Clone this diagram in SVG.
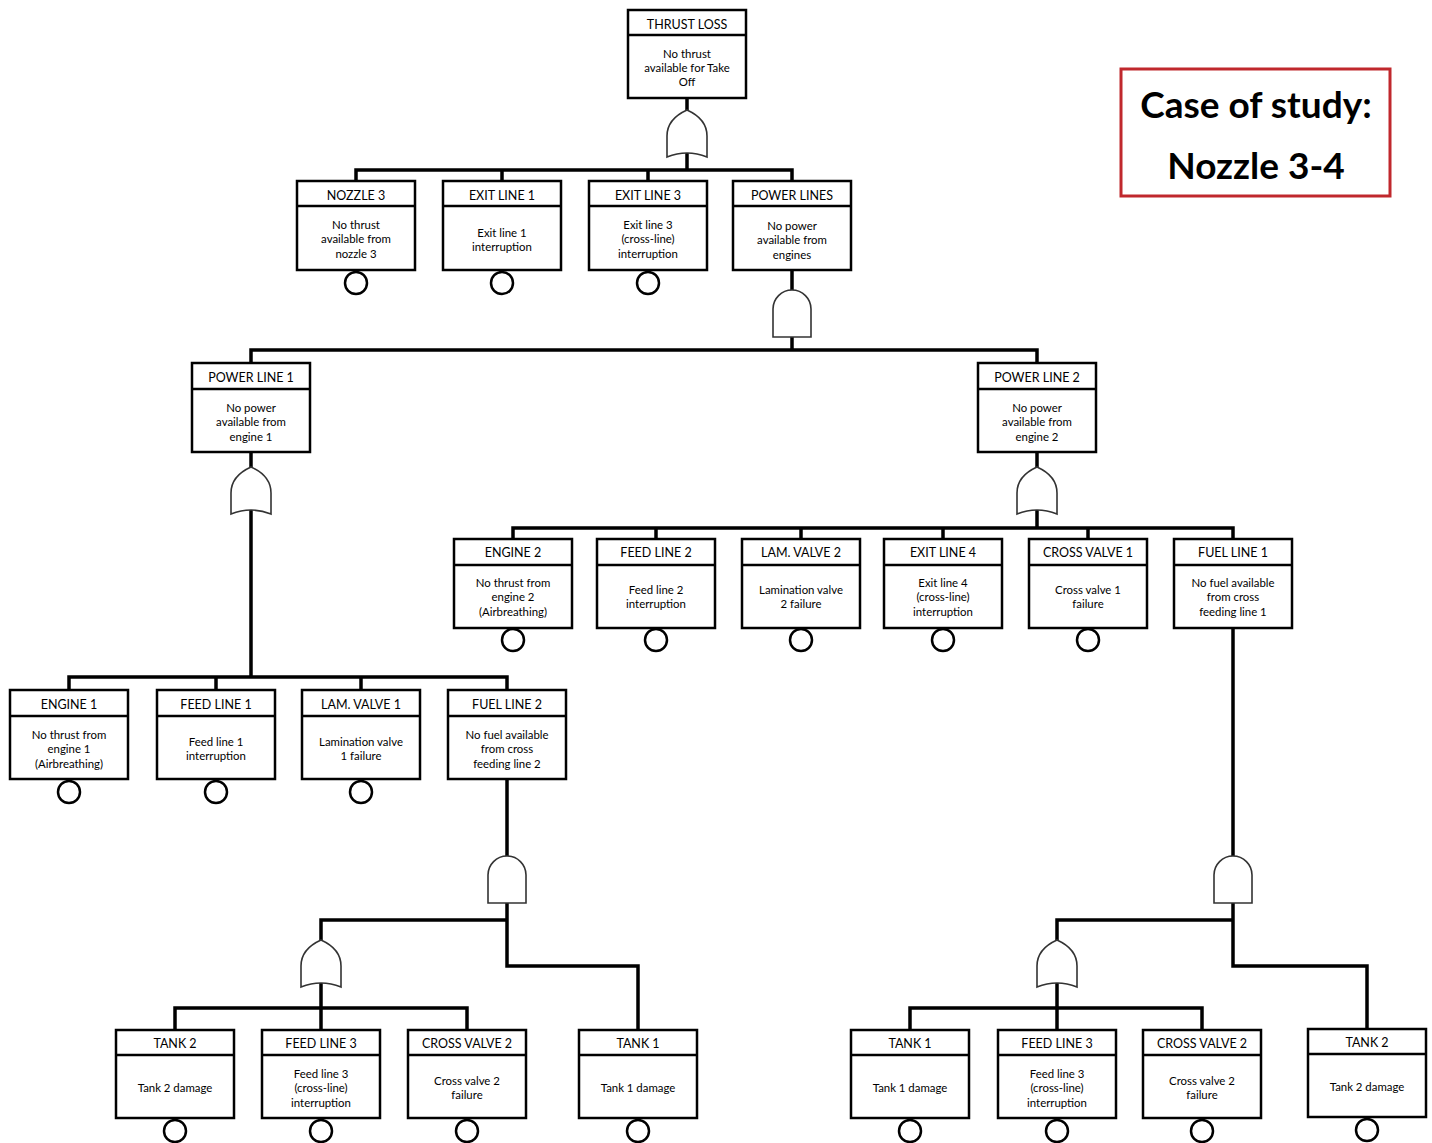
<svg xmlns="http://www.w3.org/2000/svg" xmlns:xlink="http://www.w3.org/1999/xlink" width="1432" height="1143" viewBox="0 0 1432 1143">
<style>
.box{fill:#fff;stroke:#000;stroke-width:2.5}
.div{stroke:#000;stroke-width:2.5}
.ev{fill:#fff;stroke:#000;stroke-width:2.5}
.t{font-family:Lato,"Open Sans",sans-serif;font-size:12.5px;text-anchor:middle;fill:#000}
.b{font-family:Lato,"Open Sans",sans-serif;font-size:11.4px;text-anchor:middle;fill:#000}
.conn path{fill:none;stroke:#000;stroke-width:3.5;stroke-linejoin:miter;stroke-linecap:square}
.gate{fill:#fff;stroke:#333;stroke-width:1.6}
.cap{font-family:Lato,"Open Sans",sans-serif;font-weight:bold;font-size:37px;text-anchor:middle;fill:#000}
</style>
<defs>
<path id="or" d="M-20,47 V26 Q-20,9 0,0 Q20,9 20,26 V47 Q0,39 -20,47 Z"/>
<path id="and" d="M-19,47 V19 A19,19 0 0 1 19,19 V47 Z"/>
</defs>
<rect width="1432" height="1143" fill="#fff"/>

<g id="connectors" class="conn">
<path d="M687,98 V110 M687,152 V170 M356,170 H792 M356,170 V181 M502,170 V181 M648,170 V181 M792,170 V181"/>
<path d="M792,270 V290 M792,337 V350 M251,350 H1037 M251,350 V363 M1037,350 V363"/>
<path d="M251,452 V467 M251,510 V677 M69,677 H507 M69,677 V690 M216,677 V690 M361,677 V690 M507,677 V690"/>
<path d="M1037,452 V467 M1037,510 V528 M513,528 H1233 M513,528 V539 M656,528 V539 M801,528 V539 M943,528 V539 M1088,528 V539 M1233,528 V539"/>
<path d="M507,779 V856 M507,903 V966 H638 V1030 M507,920 H321 V940 M321,983 V1008 M175,1008 H467 M175,1008 V1030 M321,1008 V1030 M467,1008 V1030"/>
<path d="M1233,628 V856 M1233,903 V966 H1367 V1030 M1233,920 H1057 V940 M1057,983 V1008 M910,1008 H1202 M910,1008 V1030 M1057,1008 V1030 M1202,1008 V1030"/>
</g>

<g id="gates">
<use xlink:href="#or" class="gate" transform="translate(687,110)"/>
<use xlink:href="#and" class="gate" transform="translate(792,290)"/>
<use xlink:href="#or" class="gate" transform="translate(251,467)"/>
<use xlink:href="#or" class="gate" transform="translate(1037,467)"/>
<use xlink:href="#and" class="gate" transform="translate(507,856)"/>
<use xlink:href="#or" class="gate" transform="translate(321,940)"/>
<use xlink:href="#and" class="gate" transform="translate(1233,856)"/>
<use xlink:href="#or" class="gate" transform="translate(1057,940)"/>
</g>

<g id="thrust-loss">
<rect class="box" x="628" y="10" width="118" height="88"/><line class="div" x1="628" y1="35" x2="746" y2="35"/>
<text class="t" x="687" y="29">THRUST LOSS</text>
<text class="b" x="687" y="58">No thrust</text><text class="b" x="687" y="72">available for Take</text><text class="b" x="687" y="86">Off</text>
</g>

<g id="nozzle3">
<rect class="box" x="297" y="181" width="118" height="89"/><line class="div" x1="297" y1="206" x2="415" y2="206"/>
<text class="t" x="356" y="200">NOZZLE 3</text>
<text class="b" x="356" y="229">No thrust</text><text class="b" x="356" y="243">available from</text><text class="b" x="356" y="258">nozzle 3</text>
<circle class="ev" cx="356" cy="283" r="11"/>
</g>

<g id="exit-line-1">
<rect class="box" x="443" y="181" width="118" height="89"/><line class="div" x1="443" y1="206" x2="561" y2="206"/>
<text class="t" x="502" y="200">EXIT LINE 1</text>
<text class="b" x="502" y="237">Exit line 1</text><text class="b" x="502" y="251">interruption</text>
<circle class="ev" cx="502" cy="283" r="11"/>
</g>

<g id="exit-line-3">
<rect class="box" x="589" y="181" width="118" height="89"/><line class="div" x1="589" y1="206" x2="707" y2="206"/>
<text class="t" x="648" y="200">EXIT LINE 3</text>
<text class="b" x="648" y="229">Exit line 3</text><text class="b" x="648" y="243">(cross-line)</text><text class="b" x="648" y="258">interruption</text>
<circle class="ev" cx="648" cy="283" r="11"/>
</g>

<g id="power-lines">
<rect class="box" x="733" y="181" width="118" height="89"/><line class="div" x1="733" y1="206" x2="851" y2="206"/>
<text class="t" x="792" y="200">POWER LINES</text>
<text class="b" x="792" y="230">No power</text><text class="b" x="792" y="244">available from</text><text class="b" x="792" y="259">engines</text>
</g>

<g id="power-line-1">
<rect class="box" x="192" y="363" width="118" height="89"/><line class="div" x1="192" y1="389" x2="310" y2="389"/>
<text class="t" x="251" y="382">POWER LINE 1</text>
<text class="b" x="251" y="412">No power</text><text class="b" x="251" y="426">available from</text><text class="b" x="251" y="441">engine 1</text>
</g>

<g id="power-line-2">
<rect class="box" x="978" y="363" width="118" height="89"/><line class="div" x1="978" y1="389" x2="1096" y2="389"/>
<text class="t" x="1037" y="382">POWER LINE 2</text>
<text class="b" x="1037" y="412">No power</text><text class="b" x="1037" y="426">available from</text><text class="b" x="1037" y="441">engine 2</text>
</g>

<g id="engine-2">
<rect class="box" x="454" y="539" width="118" height="89"/><line class="div" x1="454" y1="565" x2="572" y2="565"/>
<text class="t" x="513" y="557">ENGINE 2</text>
<text class="b" x="513" y="587">No thrust from</text><text class="b" x="513" y="601">engine 2</text><text class="b" x="513" y="616">(Airbreathing)</text>
<circle class="ev" cx="513" cy="640" r="11"/>
</g>

<g id="feed-line-2">
<rect class="box" x="597" y="539" width="118" height="89"/><line class="div" x1="597" y1="565" x2="715" y2="565"/>
<text class="t" x="656" y="557">FEED LINE 2</text>
<text class="b" x="656" y="594">Feed line 2</text><text class="b" x="656" y="608">interruption</text>
<circle class="ev" cx="656" cy="640" r="11"/>
</g>

<g id="lam-valve-2">
<rect class="box" x="742" y="539" width="118" height="89"/><line class="div" x1="742" y1="565" x2="860" y2="565"/>
<text class="t" x="801" y="557">LAM. VALVE 2</text>
<text class="b" x="801" y="594">Lamination valve</text><text class="b" x="801" y="608">2 failure</text>
<circle class="ev" cx="801" cy="640" r="11"/>
</g>

<g id="exit-line-4">
<rect class="box" x="884" y="539" width="118" height="89"/><line class="div" x1="884" y1="565" x2="1002" y2="565"/>
<text class="t" x="943" y="557">EXIT LINE 4</text>
<text class="b" x="943" y="587">Exit line 4</text><text class="b" x="943" y="601">(cross-line)</text><text class="b" x="943" y="616">interruption</text>
<circle class="ev" cx="943" cy="640" r="11"/>
</g>

<g id="cross-valve-1">
<rect class="box" x="1029" y="539" width="118" height="89"/><line class="div" x1="1029" y1="565" x2="1147" y2="565"/>
<text class="t" x="1088" y="557">CROSS VALVE 1</text>
<text class="b" x="1088" y="594">Cross valve 1</text><text class="b" x="1088" y="608">failure</text>
<circle class="ev" cx="1088" cy="640" r="11"/>
</g>

<g id="fuel-line-1">
<rect class="box" x="1174" y="539" width="118" height="89"/><line class="div" x1="1174" y1="565" x2="1292" y2="565"/>
<text class="t" x="1233" y="557">FUEL LINE 1</text>
<text class="b" x="1233" y="587">No fuel available</text><text class="b" x="1233" y="601">from cross</text><text class="b" x="1233" y="616">feeding line 1</text>
</g>

<g id="engine-1">
<rect class="box" x="10" y="690" width="118" height="89"/><line class="div" x1="10" y1="716" x2="128" y2="716"/>
<text class="t" x="69" y="709">ENGINE 1</text>
<text class="b" x="69" y="739">No thrust from</text><text class="b" x="69" y="753">engine 1</text><text class="b" x="69" y="768">(Airbreathing)</text>
<circle class="ev" cx="69" cy="792" r="11"/>
</g>

<g id="feed-line-1">
<rect class="box" x="157" y="690" width="118" height="89"/><line class="div" x1="157" y1="716" x2="275" y2="716"/>
<text class="t" x="216" y="709">FEED LINE 1</text>
<text class="b" x="216" y="746">Feed line 1</text><text class="b" x="216" y="760">interruption</text>
<circle class="ev" cx="216" cy="792" r="11"/>
</g>

<g id="lam-valve-1">
<rect class="box" x="302" y="690" width="118" height="89"/><line class="div" x1="302" y1="716" x2="420" y2="716"/>
<text class="t" x="361" y="709">LAM. VALVE 1</text>
<text class="b" x="361" y="746">Lamination valve</text><text class="b" x="361" y="760">1 failure</text>
<circle class="ev" cx="361" cy="792" r="11"/>
</g>

<g id="fuel-line-2">
<rect class="box" x="448" y="690" width="118" height="89"/><line class="div" x1="448" y1="716" x2="566" y2="716"/>
<text class="t" x="507" y="709">FUEL LINE 2</text>
<text class="b" x="507" y="739">No fuel available</text><text class="b" x="507" y="753">from cross</text><text class="b" x="507" y="768">feeding line 2</text>
</g>

<g id="tank-2-left">
<rect class="box" x="116" y="1030" width="118" height="88"/><line class="div" x1="116" y1="1055" x2="234" y2="1055"/>
<text class="t" x="175" y="1048">TANK 2</text>
<text class="b" x="175" y="1092">Tank 2 damage</text>
<circle class="ev" cx="175" cy="1131" r="11"/>
</g>

<g id="feed-line-3-left">
<rect class="box" x="262" y="1030" width="118" height="88"/><line class="div" x1="262" y1="1055" x2="380" y2="1055"/>
<text class="t" x="321" y="1048">FEED LINE 3</text>
<text class="b" x="321" y="1078">Feed line 3</text><text class="b" x="321" y="1092">(cross-line)</text><text class="b" x="321" y="1107">interruption</text>
<circle class="ev" cx="321" cy="1131" r="11"/>
</g>

<g id="cross-valve-2-left">
<rect class="box" x="408" y="1030" width="118" height="88"/><line class="div" x1="408" y1="1055" x2="526" y2="1055"/>
<text class="t" x="467" y="1048">CROSS VALVE 2</text>
<text class="b" x="467" y="1085">Cross valve 2</text><text class="b" x="467" y="1099">failure</text>
<circle class="ev" cx="467" cy="1131" r="11"/>
</g>

<g id="tank-1-left">
<rect class="box" x="579" y="1030" width="118" height="88"/><line class="div" x1="579" y1="1055" x2="697" y2="1055"/>
<text class="t" x="638" y="1048">TANK 1</text>
<text class="b" x="638" y="1092">Tank 1 damage</text>
<circle class="ev" cx="638" cy="1131" r="11"/>
</g>

<g id="tank-1-right">
<rect class="box" x="851" y="1030" width="118" height="88"/><line class="div" x1="851" y1="1055" x2="969" y2="1055"/>
<text class="t" x="910" y="1048">TANK 1</text>
<text class="b" x="910" y="1092">Tank 1 damage</text>
<circle class="ev" cx="910" cy="1131" r="11"/>
</g>

<g id="feed-line-3-right">
<rect class="box" x="998" y="1030" width="118" height="88"/><line class="div" x1="998" y1="1055" x2="1116" y2="1055"/>
<text class="t" x="1057" y="1048">FEED LINE 3</text>
<text class="b" x="1057" y="1078">Feed line 3</text><text class="b" x="1057" y="1092">(cross-line)</text><text class="b" x="1057" y="1107">interruption</text>
<circle class="ev" cx="1057" cy="1131" r="11"/>
</g>

<g id="cross-valve-2-right">
<rect class="box" x="1143" y="1030" width="118" height="88"/><line class="div" x1="1143" y1="1055" x2="1261" y2="1055"/>
<text class="t" x="1202" y="1048">CROSS VALVE 2</text>
<text class="b" x="1202" y="1085">Cross valve 2</text><text class="b" x="1202" y="1099">failure</text>
<circle class="ev" cx="1202" cy="1131" r="11"/>
</g>

<g id="tank-2-right">
<rect class="box" x="1308" y="1029" width="118" height="88"/><line class="div" x1="1308" y1="1054" x2="1426" y2="1054"/>
<text class="t" x="1367" y="1047">TANK 2</text>
<text class="b" x="1367" y="1091">Tank 2 damage</text>
<circle class="ev" cx="1367" cy="1130" r="11"/>
</g>

<g id="case-of-study">
<rect x="1121" y="69" width="269" height="127" fill="#fff" stroke="#c0282d" stroke-width="3"/>
<text class="cap" x="1256" y="118">Case of study:</text>
<text class="cap" x="1256" y="179">Nozzle 3-4</text>
</g>
</svg>
